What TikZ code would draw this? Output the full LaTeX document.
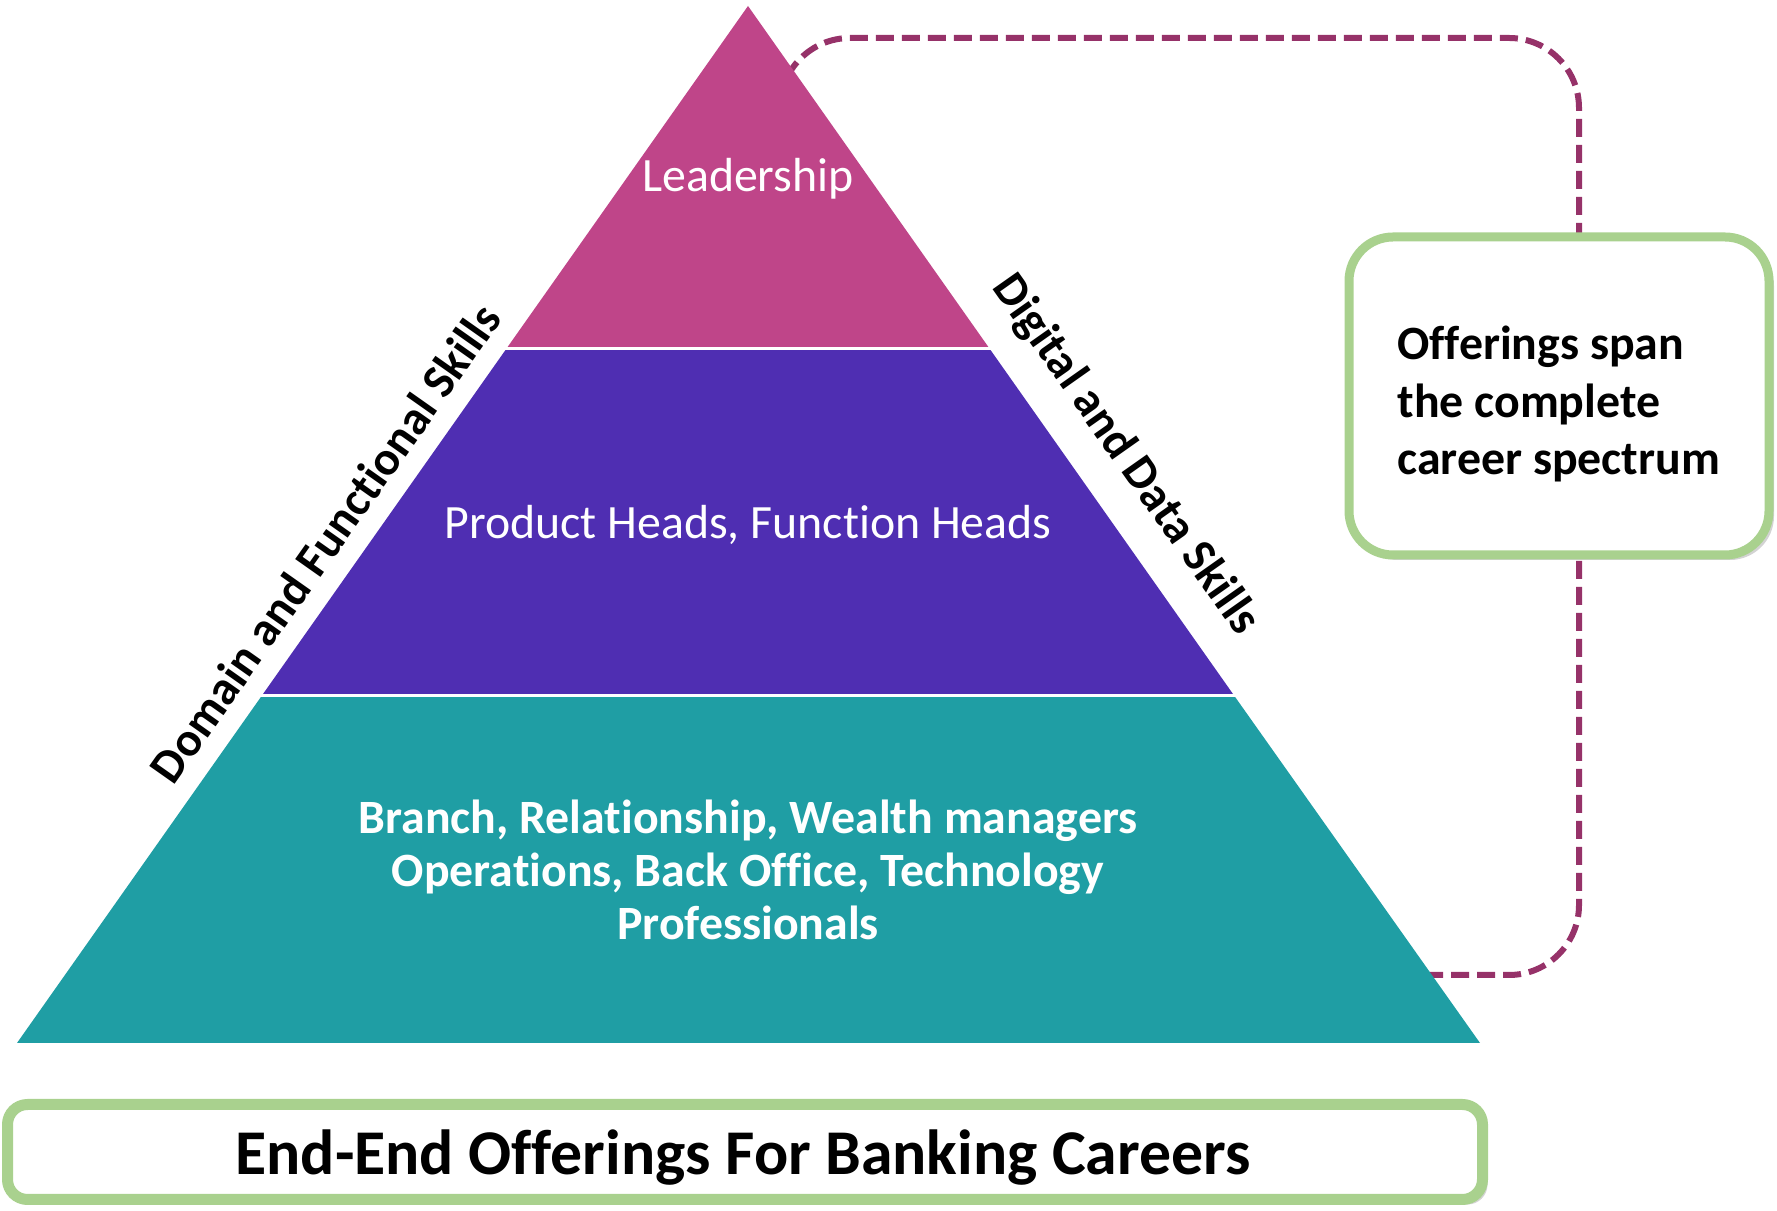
\documentclass[tikz,border=0pt]{standalone}
\usepackage{fontspec}
\setmainfont{Carlito}[Ligatures=NoCommon]
\usetikzlibrary{shadows}
\definecolor{col_lead}{RGB}{191,69,137}
\definecolor{col_heads}{RGB}{79,46,178}
\definecolor{col_base}{RGB}{31,158,164}
\definecolor{col_dash}{RGB}{150,50,105}
\definecolor{col_frame}{RGB}{169,209,142}
\begin{document}
\begin{tikzpicture}[line join=bevel,]
\useasboundingbox (0bp,0bp) rectangle (888.5bp,605.5bp);
%%
\draw [col_dash,line width=3bp,dash pattern=on 9bp off 4bp,rounded corners=35bp] (390bp,586.5bp) rectangle (789.5bp,118bp);
\fill [col_base] (8.5bp,84bp) -- (740bp,84bp) -- (617.2bp,257.5bp) -- (130.8bp,257.5bp) -- cycle;
\fill [col_heads] (130.8bp,257.5bp) -- (617.2bp,257.5bp) -- (494.9bp,431bp) -- (253.1bp,431bp) -- cycle;
\fill [col_lead] (253.1bp,431bp) -- (494.9bp,431bp) -- (374bp,602.5bp) -- cycle;
\draw [white,line width=1.5bp] (130bp,257.5bp) -- (618bp,257.5bp);
\draw [white,line width=1.5bp] (252bp,431bp) -- (496bp,431bp);
%
\node (node_lead) at (374bp,516bp) [draw=none,white,font=\fontsize{24}{29}\selectfont] {Leadership};
  \node (node_heads) at (374bp,343bp) [draw=none,white,font=\fontsize{24}{29}\selectfont] {Product Heads, Function Heads};
  \node (node_base) at (374bp,170.5bp) [draw=none,white,align=center,font=\fontsize{24}{26.5}\selectfont\bfseries] {Branch, Relationship, Wealth managers\\Operations, Back Office, Technology\\Professionals};
  \node (node_domain) at (162.5bp,334bp) [draw=none,rotate=54.82,inner sep=0pt,font=\fontsize{24}{29}\selectfont\bfseries] {Domain and Functional Skills};
  \node (node_digital) at (562.5bp,378bp) [draw=none,rotate=-54.82,inner sep=0pt,font=\fontsize{24}{29}\selectfont\bfseries] {Digital and Data Skills};
%
\node (node_spanbox) at (779.5bp,407.5bp) [draw=col_frame,line width=4.5bp,rounded corners=22bp,fill=white,minimum width=210bp,minimum height=159bp,drop shadow={shadow xshift=2.5bp,shadow yshift=-2.5bp,opacity=0.35}] {};
  \node (node_spantext) at (698.5bp,403.5bp) [draw=none,anchor=west,align=left,inner sep=0pt,font=\fontsize{24}{29}\selectfont\bfseries] {Offerings span\\the complete\\career spectrum};
  \node (node_titlebox) at (372.5bp,29.5bp) [draw=col_frame,line width=5.5bp,rounded corners=10bp,fill=white,minimum width=737.5bp,minimum height=47.5bp,drop shadow={shadow xshift=2.5bp,shadow yshift=-2.5bp,opacity=0.35}] {};
  \node (node_title) at (371.5bp,26.5bp) [draw=none,font=\fontsize{32}{38}\selectfont\bfseries] {End-End Offerings For Banking Careers};
%
\end{tikzpicture}
\end{document}
